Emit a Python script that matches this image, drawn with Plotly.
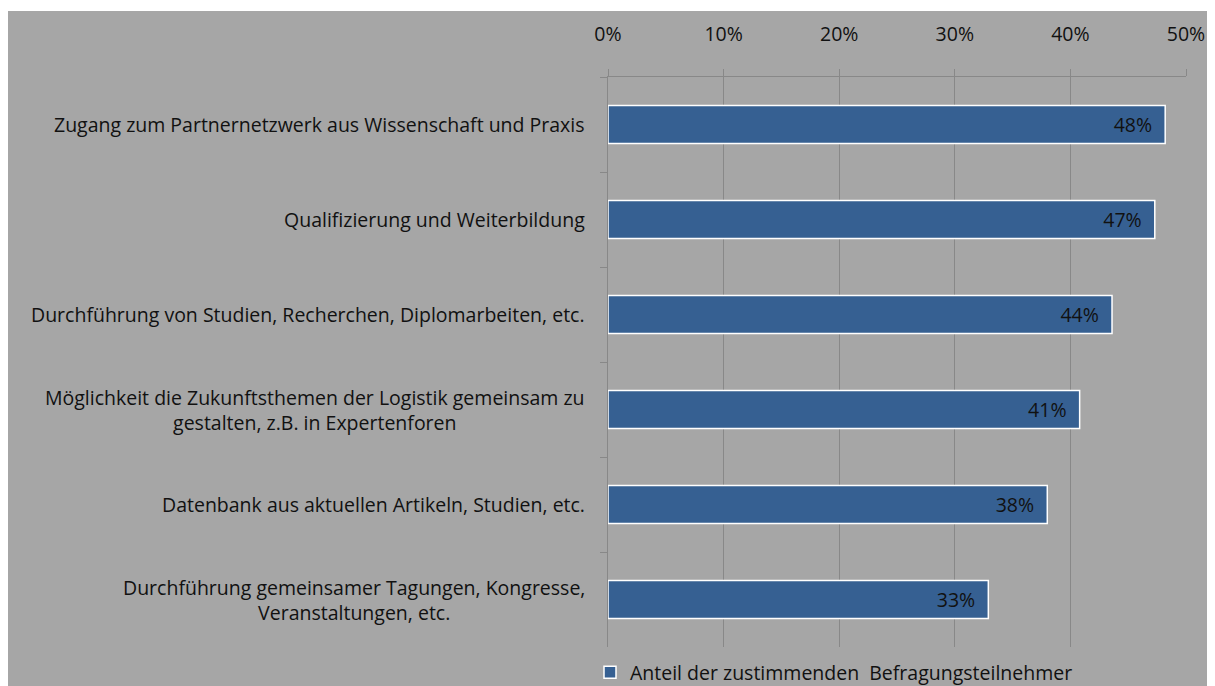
import plotly.graph_objects as go

categories = [
    "Zugang zum Partnernetzwerk aus Wissenschaft und Praxis",
    "Qualifizierung und Weiterbildung",
    "Durchführung von Studien, Recherchen, Diplomarbeiten, etc.",
    "Möglichkeit die Zukunftsthemen der Logistik gemeinsam zu<br>gestalten, z.B. in Expertenforen",
    "Datenbank aus aktuellen Artikeln, Studien, etc.",
    "Durchführung gemeinsamer Tagungen, Kongresse,<br>Veranstaltungen, etc.",
]
values = [0.482, 0.473, 0.436, 0.408, 0.380, 0.329]
series_name = "Anteil der zustimmenden  Befragungsteilnehmer"
tick_vals = [0, 0.1, 0.2, 0.3, 0.4, 0.5]
tick_text = ["0%", "10%", "20%", "30%", "40%", "50%"]

FONT = "Open Sans"
FS = 19.5
BG = "#a6a6a6"
GRID = "#888888"
BAR = "#366092"
TXT = "#111111"

OFF = 8  # page body margin
W, H = 1215 - OFF, 686 - OFF
L, R, T, B = 600, 29, 69, 39
pw, ph = W - L - R, H - T - B

def px_x(p):
    return (p - OFF - L) / pw

def px_y(p):
    return (H - B - (p - OFF)) / ph

fig = go.Figure()
fig.add_trace(go.Bar(
    x=values, y=categories, orientation="h", name=series_name,
    marker=dict(color=BAR, line=dict(color="white", width=1.5)),
    texttemplate="%{x:.0%}\u00a0\u00a0", textposition="inside",
    insidetextanchor="end", textangle=0,
    textfont=dict(family=FONT, size=FS, color=TXT),
    showlegend=True, hoverinfo="skip",
))

annotations = []
for c in categories:
    annotations.append(dict(
        x=0, xref="paper", y=c, yref="y", text=c, showarrow=False,
        xanchor="right", yanchor="middle", align="center", xshift=-21,
        font=dict(family=FONT, size=FS, color=TXT),
    ))

fig.update_layout(
    width=W, height=H,
    margin=dict(l=L, r=R, t=T, b=B, autoexpand=False),
    paper_bgcolor="white", plot_bgcolor=BG,
    bargap=0.6,
    font=dict(family=FONT, size=FS, color=TXT),
    shapes=[dict(type="rect", xref="paper", yref="paper", layer="below",
                 x0=px_x(8), x1=px_x(1240), y0=px_y(720), y1=px_y(11),
                 fillcolor=BG, line=dict(width=0))],
    annotations=annotations,
    legend=dict(orientation="h", x=px_x(590), xanchor="left", y=px_y(653),
                yanchor="top", bgcolor="rgba(0,0,0,0)", itemwidth=30,
                font=dict(family=FONT, size=FS, color=TXT)),
    xaxis=dict(
        side="top", range=[0, 0.5], tickvals=tick_vals, ticktext=tick_text,
        showgrid=True, gridcolor=GRID, gridwidth=1.3, zeroline=False,
        showline=True, linecolor=GRID, linewidth=1.3,
        ticks="outside", ticklen=7, tickcolor=GRID, tickwidth=1.3,
        ticklabelstandoff=20,
        tickfont=dict(family=FONT, size=FS, color=TXT),
    ),
    yaxis=dict(
        categoryorder="array", categoryarray=categories, autorange="reversed",
        showticklabels=False, showgrid=False, zeroline=False,
        showline=True, linecolor=GRID, linewidth=1.3,
        ticks="outside", ticklen=7, tickcolor=GRID, tickwidth=1.3,
        tickson="boundaries",
    ),
)

fig.write_html("out.html")
